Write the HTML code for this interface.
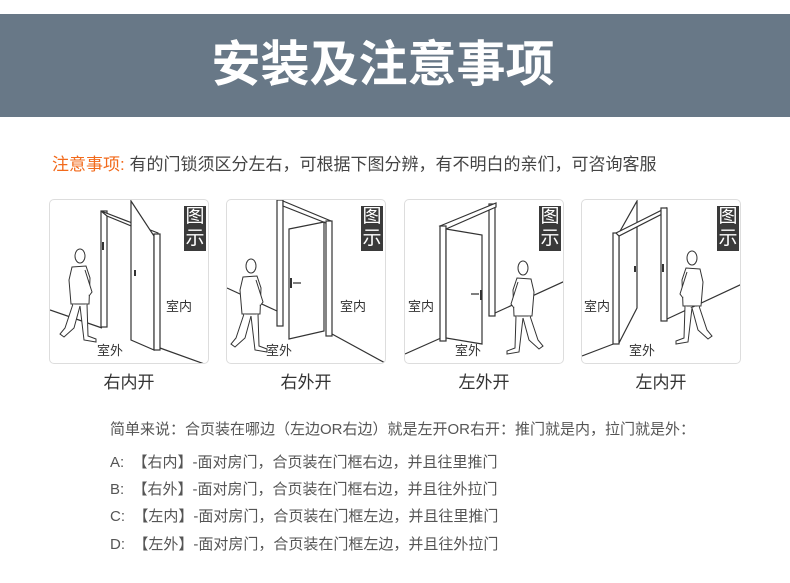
<!DOCTYPE html>
<html><head><meta charset="utf-8"><style>
*{margin:0;padding:0}
body{width:790px;height:583px;background:#fff;position:relative;overflow:hidden;font-family:"Liberation Sans","Noto Sans CJK SC",sans-serif;color:#444}
.hdr{position:absolute;left:0;top:14px;width:790px;height:103px;background:#687887}
.hdr div{position:absolute;left:-12px;width:790px;top:22px;text-align:center;color:#fff;font-size:49px;font-weight:bold;line-height:58px;letter-spacing:0px}
.note{position:absolute;left:52px;top:154px;font-size:17px;line-height:22px;color:#444}
.note span{color:#f26a1b}
.panel{position:absolute;top:199px;width:160px;height:165px;border:1px solid #ddd;border-radius:5px;box-sizing:border-box;overflow:hidden}
.cap{position:absolute;top:372px;width:160px;text-align:center;font-size:17px;color:#333;line-height:22px}
.t{position:absolute;left:110px;font-size:15px;line-height:20px;color:#555}
</style></head><body>
<div class="hdr"><div>安装及注意事项</div></div>
<div class="note"><span>注意事项:</span> 有的门锁须区分左右，可根据下图分辨，有不明白的亲们，可咨询客服</div>

<svg width="0" height="0" style="position:absolute">
<defs>
<g id="man" fill="#fff" stroke="#333" stroke-width="1">
<ellipse cx="12" cy="8" rx="5" ry="7"/>
<path d="M4 19 L18 18 L22 30 L21 56 L3 56 L1 32 Z"/>
<path d="M5 56 L-3 80 L-8 86 L-4 89 L6 80 L12 58"/>
<path d="M12 58 L16 92 L28 94 L28 91 L20 88 L19 56"/>
<path d="M17 22 L24 44 L21 48"/>
</g>
</defs></svg>

<div class="panel" style="left:49px"><svg width="160" height="165" stroke="#333" fill="none" stroke-width="1.2">
<line x1="0" y1="110" x2="52" y2="128"/><line x1="110" y1="148" x2="160" y2="166"/>
<rect x="51" y="11" width="6" height="116" fill="#fff"/>
<polygon points="51,11 108,33 108,37 57,16" fill="#fff"/>
<polygon points="81,1 104,36 104,150 81,140" fill="#fff"/>
<rect x="104" y="34" width="6" height="116" fill="#fff"/>
<rect x="52" y="42" width="2" height="8" fill="#333" stroke="none"/>
<rect x="84" y="70" width="2" height="6" fill="#333" stroke="none"/>
<use href="#man" transform="translate(18,48)"/>
</svg></div>

<div class="panel" style="left:226px"><svg width="160" height="165" stroke="#333" fill="none" stroke-width="1.2">
<line x1="0" y1="88" x2="50" y2="111"/><line x1="105" y1="134" x2="160" y2="164"/>
<rect x="50" y="0" width="6" height="126" fill="#fff"/>
<polygon points="56,1 104,21 104,25 56,6" fill="#fff"/>
<rect x="99" y="21" width="6" height="115" fill="#fff"/>
<polygon points="62,29 97,22 97,131 62,139" fill="#fff"/>
<rect x="63" y="78" width="2" height="10" fill="#333" stroke="none"/>
<line x1="66" y1="83" x2="74" y2="83"/>
<use href="#man" transform="translate(12,58)"/>
</svg></div>

<div class="panel" style="left:404px"><svg width="160" height="165" stroke="#333" fill="none" stroke-width="1.2">
<line x1="0" y1="154" x2="36" y2="138"/><line x1="90" y1="113" x2="160" y2="81"/>
<rect x="84" y="4" width="6" height="112" fill="#fff"/>
<polygon points="35,26 91,3 91,7 41,29" fill="#fff"/>
<rect x="35" y="26" width="6" height="115" fill="#fff"/>
<polygon points="41,29 77,35 77,144 41,138" fill="#fff"/>
<rect x="75" y="90" width="2" height="10" fill="#333" stroke="none"/>
<line x1="66" y1="94" x2="74" y2="94"/>
<use href="#man" transform="translate(130,60) scale(-1,1)"/>
</svg></div>

<div class="panel" style="left:581px"><svg width="160" height="165" stroke="#333" fill="none" stroke-width="1.2">
<line x1="0" y1="156" x2="34" y2="143"/><line x1="85" y1="119" x2="160" y2="84"/>
<polygon points="55,1 55,108 37,143 37,33" fill="#fff"/>
<rect x="31" y="33" width="6" height="111" fill="#fff"/>
<polygon points="34,33 84,8 84,12 37,36" fill="#fff"/>
<rect x="79" y="8" width="6" height="113" fill="#fff"/>
<rect x="80" y="64" width="2" height="8" fill="#333" stroke="none"/>
<rect x="52" y="66" width="2" height="6" fill="#333" stroke="none"/>
<use href="#man" transform="translate(122,50) scale(-1,1)"/>
</svg></div>

<style>.bd{position:absolute;top:206px;width:22px;height:45px;background:#3a3a3a;color:#fff;font-size:19px;line-height:22px;text-align:center}
.lb{position:absolute;font-size:13px;color:#333;line-height:16px}</style>
<div class="bd" style="left:184px">图示</div>
<div class="bd" style="left:361px">图示</div>
<div class="bd" style="left:539px">图示</div>
<div class="bd" style="left:717px">图示</div>
<div class="lb" style="left:166px;top:299px">室内</div>
<div class="lb" style="left:97px;top:343px">室外</div>
<div class="lb" style="left:340px;top:299px">室内</div>
<div class="lb" style="left:266px;top:343px">室外</div>
<div class="lb" style="left:408px;top:299px">室内</div>
<div class="lb" style="left:455px;top:343px">室外</div>
<div class="lb" style="left:584px;top:299px">室内</div>
<div class="lb" style="left:629px;top:343px">室外</div>

<div class="cap" style="left:49px">右内开</div>
<div class="cap" style="left:226px">右外开</div>
<div class="cap" style="left:404px">左外开</div>
<div class="cap" style="left:581px">左内开</div>

<div class="t" style="top:420px">简单来说：合页装在哪边（左边OR右边）就是左开OR右开：推门就是内，拉门就是外：</div>
<div class="t" style="top:453px">A:&nbsp; 【右内】-面对房门，合页装在门框右边，并且往里推门</div>
<div class="t" style="top:480px">B:&nbsp; 【右外】-面对房门，合页装在门框右边，并且往外拉门</div>
<div class="t" style="top:507px">C:&nbsp; 【左内】-面对房门，合页装在门框左边，并且往里推门</div>
<div class="t" style="top:535px">D:&nbsp; 【左外】-面对房门，合页装在门框左边，并且往外拉门</div>
</body></html>
